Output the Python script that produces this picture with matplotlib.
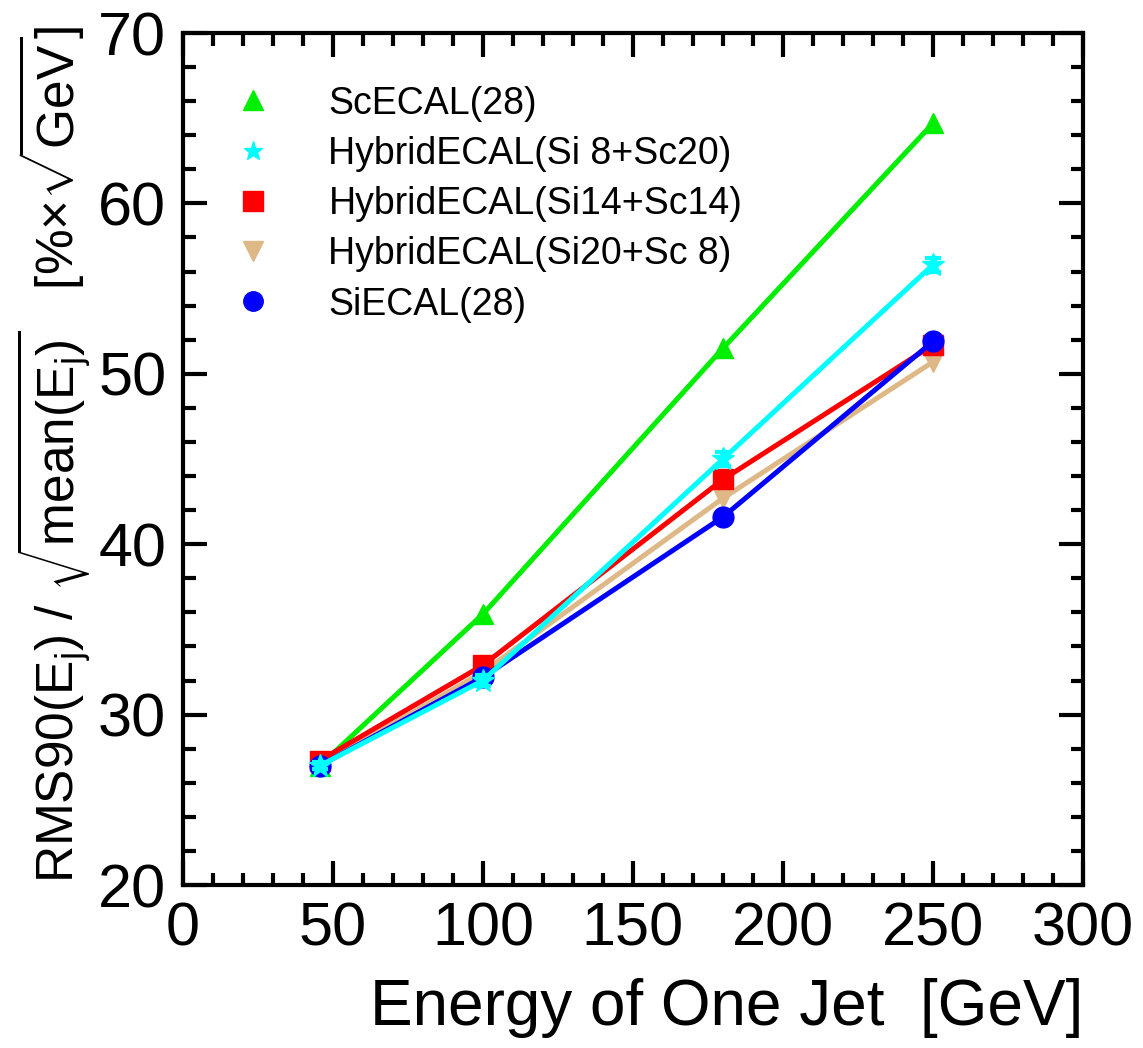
import matplotlib
matplotlib.use("Agg")
import matplotlib.pyplot as plt
from matplotlib.lines import Line2D
from matplotlib.ticker import MultipleLocator

energy = [45.6, 100, 180, 250]
sc28 = [27.0, 35.9, 51.5, 64.7]
si8sc20 = [27.0, 32.0, 45.0, 56.4]
si8sc20_err = [0.2, 0.3, 0.4, 0.4]
si14sc14 = [27.3, 32.9, 43.8, 51.7]
si20sc8 = [27.0, 32.5, 42.7, 50.7]
si28 = [27.0, 32.2, 41.6, 51.9]

labels = ["ScECAL(28)", "HybridECAL(Si 8+Sc20)", "HybridECAL(Si14+Sc14)",
          "HybridECAL(Si20+Sc 8)", "SiECAL(28)"]
colors = ["#00ee00", "#00ffff", "#ff0000", "#deb887", "#0000ff"]
markers = ["^", "*", "s", "v", "o"]
msizes = [15, 17, 14, 15, 15]

plt.rcParams['font.family'] = ['Liberation Sans', 'DejaVu Sans']
plt.rcParams['mathtext.fontset'] = 'custom'
plt.rcParams['mathtext.rm'] = 'Liberation Sans'
plt.rcParams['mathtext.it'] = 'Liberation Sans'

fig = plt.figure(figsize=(11.43, 10.48), dpi=100)
ax = fig.add_axes([0.160, 0.1555, 0.7875, 0.813])

series = [sc28, si8sc20, si14sc14, si20sc8, si28]
order = [0, 3, 2, 4, 1]
for i in order:
    ax.plot(energy, series[i], color=colors[i], lw=3.6, marker=markers[i],
            ms=msizes[i], mec=colors[i], zorder=3 + order.index(i))
ax.errorbar(energy, si8sc20, yerr=si8sc20_err, fmt='none', ecolor=colors[1],
            elinewidth=3, capsize=6, capthick=3, zorder=9)

ax.set_xlim(0, 300)
ax.set_ylim(20, 70)
ax.xaxis.set_major_locator(MultipleLocator(50))
ax.xaxis.set_minor_locator(MultipleLocator(10))
ax.yaxis.set_major_locator(MultipleLocator(10))
ax.yaxis.set_minor_locator(MultipleLocator(2))
ax.tick_params(which='both', direction='in', top=True, right=True, width=3)
ax.tick_params(which='major', length=17, labelsize=44, pad=12)
ax.tick_params(which='minor', length=9)
for s in ax.spines.values():
    s.set_linewidth(3)

ax.set_xlabel("Energy of One Jet  [GeV]", fontsize=46, loc='right', labelpad=14)
fig.text(0.048, 0.566,
         r"RMS90(E$_{\rm j}$) / $\sqrt{\rm mean(E_j)}$   [%$\times\sqrt{\rm GeV}$]",
         rotation=90, ha='center', va='center', fontsize=37)

handles = [Line2D([], [], color=c, marker=m, ls='none', ms=14)
           for c, m in zip(colors, markers)]
ax.legend(handles, labels, loc='upper left', bbox_to_anchor=(0.02, 0.978),
          frameon=False, fontsize=27, handlelength=1.0, handletextpad=1.5,
          labelspacing=0.38)

fig.savefig("out.png", dpi=100)
